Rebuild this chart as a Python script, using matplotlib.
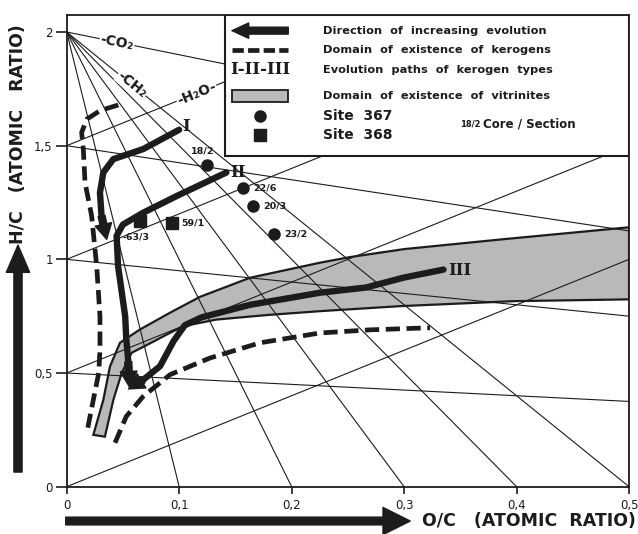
import numpy as np
import matplotlib
matplotlib.use('Agg')
import matplotlib.pyplot as plt
from matplotlib.patches import Polygon, Rectangle, FancyArrowPatch
from matplotlib.ticker import FuncFormatter

# ---------------------------------- data ----------------------------------
# vitrinite domain, outer (upper) and inner (lower) edges
vit_up_x = [0.0237, 0.0326, 0.0385, 0.0474, 0.065, 0.0918, 0.1185, 0.163, 0.225, 0.252, 0.30, 0.385, 0.50]
vit_up_y = [0.228, 0.382, 0.529, 0.633, 0.691, 0.765, 0.835, 0.919, 0.985, 1.010, 1.045, 1.087, 1.141]
vit_lo_x = [0.034, 0.0415, 0.0489, 0.0578, 0.072, 0.092, 0.1037, 0.133, 0.178, 0.225, 0.296, 0.397, 0.50]
vit_lo_y = [0.220, 0.382, 0.500, 0.589, 0.625, 0.677, 0.706, 0.735, 0.755, 0.772, 0.794, 0.816, 0.824]

# kerogen domain boundaries (dashed)
ker_left_x = [0.0459, 0.030, 0.018, 0.0133, 0.0148, 0.0163, 0.0222, 0.0267, 0.0296, 0.0296, 0.0285, 0.0237, 0.0178]
ker_left_y = [1.679, 1.655, 1.617, 1.558, 1.485, 1.339, 1.191, 0.970, 0.750, 0.600, 0.500, 0.382, 0.235]
ker_right_x = [0.043, 0.053, 0.068, 0.092, 0.1274, 0.172, 0.225, 0.27, 0.323]
ker_right_y = [0.193, 0.309, 0.397, 0.493, 0.566, 0.633, 0.676, 0.690, 0.699]

# evolution paths of kerogen types (last point = arrow tip)
path1_x = [0.100, 0.068, 0.0415, 0.0326, 0.0296, 0.031, 0.0356]
path1_y = [1.570, 1.485, 1.441, 1.382, 1.294, 1.191, 1.088]
path2_x = [0.142, 0.098, 0.068, 0.050, 0.0444, 0.0457, 0.052, 0.053, 0.0548, 0.0557]
path2_y = [1.382, 1.279, 1.205, 1.153, 1.103, 0.970, 0.750, 0.650, 0.550, 0.440]
path3_x = [0.335, 0.300, 0.266, 0.225, 0.163, 0.120, 0.105, 0.095, 0.083, 0.068, 0.055]
path3_y = [0.955, 0.920, 0.876, 0.853, 0.800, 0.745, 0.710, 0.640, 0.530, 0.470, 0.430]

# samples
s367_x = [0.125, 0.157, 0.166, 0.184]
s367_y = [1.416, 1.316, 1.235, 1.110]
s367_lab = ['18/2', '22/6', '20/3', '23/2']
s368_x = [0.0652, 0.0933]
s368_y = [1.169, 1.159]
s368_lab = ['63/3', '59/1']

# reference lines: start points on the H/C axis
h2o_start = [0.0, 0.5, 1.0, 1.5]          # slope 2 (loss of H2O)
co2_start = [0.5, 1.0, 1.5, 2.0]          # converge to (2, 0) (loss of CO2)
ch2_end = [0.1, 0.2, 0.3, 0.4, 0.5]       # from (0, 2) (loss of CH2)

xticks = [0, 0.1, 0.2, 0.3, 0.4, 0.5]
yticks = [0, 0.5, 1, 1.5, 2]

ink = '#1c1c1c'
fig = plt.figure(figsize=(6.38, 5.34), dpi=100)
ax = fig.add_axes([0.1045, 0.0886, 0.8815, 0.8834])
ax.set_xlim(0, 0.5)
ax.set_ylim(0, 2.075)

# grid of reaction lines
xx = np.array([0, 0.5])
for y0 in h2o_start:
    ax.plot(xx, y0 + 2*xx, c=ink, lw=0.8, zorder=2)
for y0 in co2_start:
    ax.plot(xx, y0 - y0/2*xx, c=ink, lw=0.8, zorder=2)
for x1 in ch2_end:
    ax.plot([0, x1], [2, 0], c=ink, lw=0.8, zorder=2)

# vitrinite band
band = np.column_stack([vit_up_x + vit_lo_x[::-1], vit_up_y + vit_lo_y[::-1]])
ax.add_patch(Polygon(band, closed=True, fc='#b9b9b9', ec=ink, lw=1.6, zorder=1.5))

# kerogen domain
dash = dict(c=ink, lw=3.4, dashes=(3.0, 1.4), zorder=3, dash_capstyle='butt')
ax.plot(ker_left_x, ker_left_y, **dash)
ax.plot(ker_right_x, ker_right_y, **dash)

# evolution paths with arrowheads
def evo_path(px, py):
    ax.plot(px[:-1], py[:-1], c=ink, lw=4.6, solid_joinstyle='round', solid_capstyle='round', zorder=4)
    ax.add_patch(FancyArrowPatch((px[-2], py[-2]), (px[-1], py[-1]),
                 arrowstyle='simple,head_length=1.1,head_width=1.2,tail_width=0.5',
                 mutation_scale=10, color=ink, shrinkA=0, shrinkB=0, zorder=4))

evo_path(path1_x, path1_y)
evo_path(path2_x, path2_y)
evo_path(path3_x, path3_y)

roman = dict(family='DejaVu Serif', weight='bold', color=ink, zorder=6)
ax.text(path1_x[0] + 0.003, path1_y[0] + 0.015, 'I', fontsize=12, ha='left', va='center', **roman)
ax.text(path2_x[0] + 0.003, path2_y[0], 'II', fontsize=12, ha='left', va='center', **roman)
ax.text(path3_x[0] + 0.004, path3_y[0] - 0.005, 'III', fontsize=12, ha='left', va='center', **roman)

# samples
ax.plot(s367_x, s367_y, 'o', ms=8, c=ink, zorder=5)
ax.plot(s368_x, s368_y, 's', ms=8, c=ink, zorder=5)
lab = dict(fontsize=6.8, weight='bold', color=ink, zorder=6)
ax.text(s367_x[0] - 0.004, s367_y[0] + 0.06, s367_lab[0], ha='center', va='center', **lab)
for x, y, s in zip(s367_x[1:], s367_y[1:], s367_lab[1:]):
    ax.text(x + 0.009, y, s, ha='left', va='center', **lab)
ax.text(s368_x[0] - 0.004, s368_y[0] - 0.07, '-' + s368_lab[0], ha='center', va='center', **lab)
ax.text(s368_x[1] + 0.009, s368_y[1], s368_lab[1], ha='left', va='center', **lab)

# labels on the reaction lines
def line_label(x, y, slope, s):
    p = ax.transData.transform([(x, y), (x + 0.01, y + 0.01*slope)])
    ang = np.degrees(np.arctan2(p[1, 1] - p[0, 1], p[1, 0] - p[0, 0]))
    ax.text(x, y, s, rotation=ang, rotation_mode='anchor', ha='center', va='center',
            fontsize=10, weight='bold', color=ink, zorder=4,
            bbox=dict(fc='white', ec='none', pad=0.5))

line_label(0.0448, 2 - 0.0448, -1, '-CO₂')
line_label(0.058, 2 - 4*0.058, -4, '-CH₂')
line_label(0.1154, 1.5 + 2*0.1154, 2, '-H₂O-')

# legend box
lx0, ly0 = 0.1407, 1.456
ax.add_patch(Rectangle((lx0, ly0), 0.5 - lx0, 2.075 - ly0, fc='white', ec=ink, lw=1.5, zorder=7))
rows = [2.006, 1.922, 1.833, 1.719, 1.631, 1.547]
sx0, sx1, tx = 0.147, 0.197, 0.228
ax.add_patch(FancyArrowPatch((sx1, rows[0]), (sx0, rows[0]),
             arrowstyle='simple,head_length=1.2,head_width=1.1,tail_width=0.5',
             mutation_scale=10, color=ink, shrinkA=0, shrinkB=0, zorder=8))
ax.plot([sx0, sx1], [rows[1], rows[1]], c=ink, lw=3.4, dashes=(2.4, 0.9), zorder=8)
ax.text((sx0 + sx1)/2, rows[2], 'I-II-III', fontsize=12, ha='center', va='center',
        family='DejaVu Serif', weight='bold', color=ink, zorder=8)
ax.add_patch(Rectangle((sx0, rows[3] - 0.025), sx1 - sx0, 0.05, fc='#b9b9b9', ec=ink, lw=1.3, zorder=8))
ax.plot([(sx0 + sx1)/2], [rows[4]], 'o', ms=8, c=ink, zorder=8)
ax.plot([(sx0 + sx1)/2], [rows[5]], 's', ms=8, c=ink, zorder=8)

leg = dict(fontsize=8.2, weight='bold', color=ink, ha='left', va='center', zorder=8)
ax.text(tx, rows[0], 'Direction  of  increasing  evolution', **leg)
ax.text(tx, rows[1], 'Domain  of  existence  of  kerogens', **leg)
ax.text(tx, rows[2], 'Evolution  paths  of  kerogen  types', **leg)
ax.text(tx, rows[3], 'Domain  of  existence  of  vitrinites', **leg)
ax.text(tx, rows[4], 'Site  367', fontsize=10, weight='bold', color=ink, ha='left', va='center', zorder=8)
ax.text(tx, rows[5], 'Site  368', fontsize=10, weight='bold', color=ink, ha='left', va='center', zorder=8)
ax.text(0.350, 1.595, '18/2', fontsize=6, weight='bold', color=ink, ha='left', va='center', zorder=8)
ax.text(0.370, 1.595, 'Core / Section', fontsize=8.5, weight='bold', color=ink, ha='left', va='center', zorder=8)

# axes and ticks
for sp in ax.spines.values():
    sp.set_linewidth(1.3)
    sp.set_color(ink)
ax.set_xticks(xticks)
ax.set_yticks(yticks)
comma = FuncFormatter(lambda v, p: ('%g' % v).replace('.', ','))
ax.xaxis.set_major_formatter(comma)
ax.yaxis.set_major_formatter(comma)
ax.tick_params(axis='y', length=8, width=1.2, pad=2, labelsize=8.5, colors=ink)
ax.tick_params(axis='x', length=5, width=1.2, pad=4, labelsize=8.5, colors=ink)

# axis titles with big arrows
fig.text(0.0282, 0.748, 'H/C   (ATOMIC   RATIO)', rotation=90, ha='center', va='center',
         fontsize=12.5, weight='bold', color=ink)
fig.text(0.996, 0.0243, 'O/C   (ATOMIC  RATIO)', ha='right', va='center',
         fontsize=12.5, weight='bold', color=ink)
fig.add_artist(FancyArrowPatch((0.0282, 0.116), (0.0282, 0.541), transform=fig.transFigure,
               arrowstyle='simple,head_length=1.4,head_width=1.2,tail_width=0.42',
               mutation_scale=14, color=ink, shrinkA=0, shrinkB=0))
fig.add_artist(FancyArrowPatch((0.103, 0.0243), (0.643, 0.0243), transform=fig.transFigure,
               arrowstyle='simple,head_length=1.4,head_width=1.4,tail_width=0.4',
               mutation_scale=14, color=ink, shrinkA=0, shrinkB=0))

fig.savefig('out.png', dpi=100)
